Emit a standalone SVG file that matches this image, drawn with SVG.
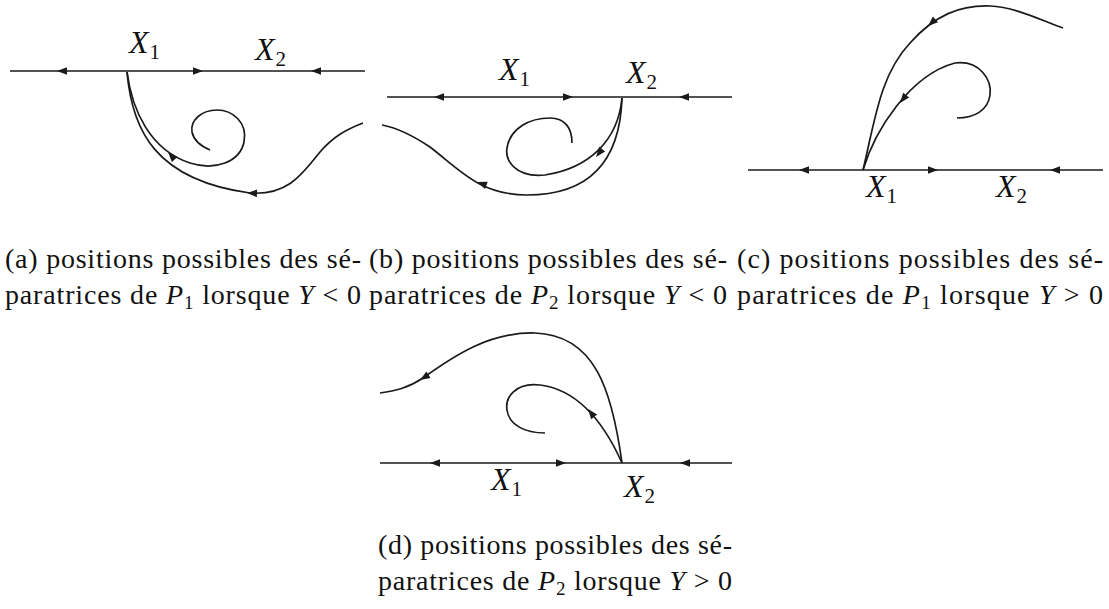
<svg xmlns="http://www.w3.org/2000/svg" width="1109" height="609" viewBox="0 0 1109 609">
<style>
.ax{stroke:#1a1a1a;stroke-width:1.5;fill:none}
.cv{stroke:#1a1a1a;stroke-width:1.7;fill:none}
.ah{fill:#1a1a1a}
.lbl{font-family:"Liberation Serif","Times New Roman",serif;font-style:italic;font-size:32px;fill:#111}
.sub{font-style:normal;font-size:21px}
.cap{font-family:"Liberation Serif","Times New Roman",serif;font-size:28px;fill:#111}
.it{font-style:italic}
.cs{font-size:19px}
</style>
<defs>
<path id="ah" d="M0,0 L-10,-3.8 L-10,3.8 Z"/>
</defs>
<rect width="1109" height="609" fill="#fff"/>

<g id="panel-a">
<path class="ax" d="M10,71 H365"/>
<use href="#ah" class="ah" transform="translate(57,71) rotate(180)"/>
<use href="#ah" class="ah" transform="translate(203,71)"/>
<use href="#ah" class="ah" transform="translate(311,71) rotate(180)"/>
<text class="lbl" x="129" y="53">X<tspan class="sub" dx="1" dy="6">1</tspan></text>
<text class="lbl" x="255" y="60">X<tspan class="sub" dx="1" dy="6">2</tspan></text>
</g>

<g id="panel-b">
<path class="ax" d="M387,97 H732"/>
<use href="#ah" class="ah" transform="translate(434,97) rotate(180)"/>
<use href="#ah" class="ah" transform="translate(573,97)"/>
<use href="#ah" class="ah" transform="translate(679,97) rotate(180)"/>
<text class="lbl" x="499" y="80">X<tspan class="sub" dx="1" dy="6">1</tspan></text>
<text class="lbl" x="626" y="83">X<tspan class="sub" dx="1" dy="6">2</tspan></text>
</g>

<g id="panel-c">
<path class="ax" d="M748,170 H1103"/>
<use href="#ah" class="ah" transform="translate(799,170) rotate(180)"/>
<use href="#ah" class="ah" transform="translate(938,170)"/>
<use href="#ah" class="ah" transform="translate(1050,170) rotate(180)"/>
<text class="lbl" x="866" y="197">X<tspan class="sub" dx="1" dy="6">1</tspan></text>
<text class="lbl" x="996" y="197">X<tspan class="sub" dx="1" dy="6">2</tspan></text>
</g>

<g id="panel-d">
<path class="ax" d="M380,463 H732"/>
<use href="#ah" class="ah" transform="translate(430,463) rotate(180)"/>
<use href="#ah" class="ah" transform="translate(566,463)"/>
<use href="#ah" class="ah" transform="translate(680,463) rotate(180)"/>
<text class="lbl" x="491" y="490">X<tspan class="sub" dx="1" dy="6">1</tspan></text>
<text class="lbl" x="624" y="497">X<tspan class="sub" dx="1" dy="6">2</tspan></text>
</g>

<g id="connectors">
<path class="cv" d="M127,72 C132,110 150,150 190,163 C215,171 240,162 244,142 C248,122 232,110 217,110 C202,110 190,120 192,132 C194,142 203,147 210,150"/>
<use href="#ah" class="ah" transform="translate(168,152) rotate(-132)"/>
<path class="cv" d="M127,72 C132,130 155,180 250,193 C290,196 305,170 320,152 C333,137 345,130 363,123"/>
<use href="#ah" class="ah" transform="translate(247,193) rotate(182)"/>

<path class="cv" d="M622,98 C618,140 590,168 545,175 C515,178 505,160 507,148 C510,128 530,118 550,118 C565,118 572,128 572,143"/>
<use href="#ah" class="ah" transform="translate(596,157) rotate(128)"/>
<path class="cv" d="M622,98 C620,160 590,195 527,195 C480,195 460,170 430,147 C412,135 398,128 382,125"/>
<use href="#ah" class="ah" transform="translate(477,182) rotate(200)"/>

<path class="cv" d="M863,170 C875,120 880,75 910,43 C935,15 960,5 990,6 C1015,7 1040,20 1063,28"/>
<use href="#ah" class="ah" transform="translate(928,26) rotate(138)"/>
<path class="cv" d="M863,170 C875,130 910,75 955,63 C980,60 992,80 990,95 C988,110 975,118 957,118"/>
<use href="#ah" class="ah" transform="translate(900,103) rotate(128)"/>

<path class="cv" d="M622,463 C612,390 595,335 535,333 C490,332 455,355 423,378 C408,388 395,391 380,393"/>
<use href="#ah" class="ah" transform="translate(420,380) rotate(148)"/>
<path class="cv" d="M622,463 C605,425 580,390 540,385 C515,382 505,398 507,410 C509,425 525,433 545,433"/>
<use href="#ah" class="ah" transform="translate(588,409) rotate(-128)"/>
</g>

<g id="captions">
<text class="cap" x="5" y="268" textLength="356" lengthAdjust="spacing">(a) positions possibles des sé-</text>
<text class="cap" x="5" y="304" textLength="356" lengthAdjust="spacing">paratrices de <tspan class="it">P</tspan><tspan class="cs" dy="5">1</tspan><tspan dy="-5"> lorsque </tspan><tspan class="it">Y</tspan> &lt; 0</text>
<text class="cap" x="369" y="268" textLength="358" lengthAdjust="spacing">(b) positions possibles des sé-</text>
<text class="cap" x="369" y="304" textLength="358" lengthAdjust="spacing">paratrices de <tspan class="it">P</tspan><tspan class="cs" dy="5">2</tspan><tspan dy="-5"> lorsque </tspan><tspan class="it">Y</tspan> &lt; 0</text>
<text class="cap" x="737" y="268" textLength="366" lengthAdjust="spacing">(c) positions possibles des sé-</text>
<text class="cap" x="737" y="304" textLength="366" lengthAdjust="spacing">paratrices de <tspan class="it">P</tspan><tspan class="cs" dy="5">1</tspan><tspan dy="-5"> lorsque </tspan><tspan class="it">Y</tspan> &gt; 0</text>
<text class="cap" x="378" y="554" textLength="354" lengthAdjust="spacing">(d) positions possibles des sé-</text>
<text class="cap" x="378" y="590" textLength="354" lengthAdjust="spacing">paratrices de <tspan class="it">P</tspan><tspan class="cs" dy="5">2</tspan><tspan dy="-5"> lorsque </tspan><tspan class="it">Y</tspan> &gt; 0</text>
</g>
</svg>
